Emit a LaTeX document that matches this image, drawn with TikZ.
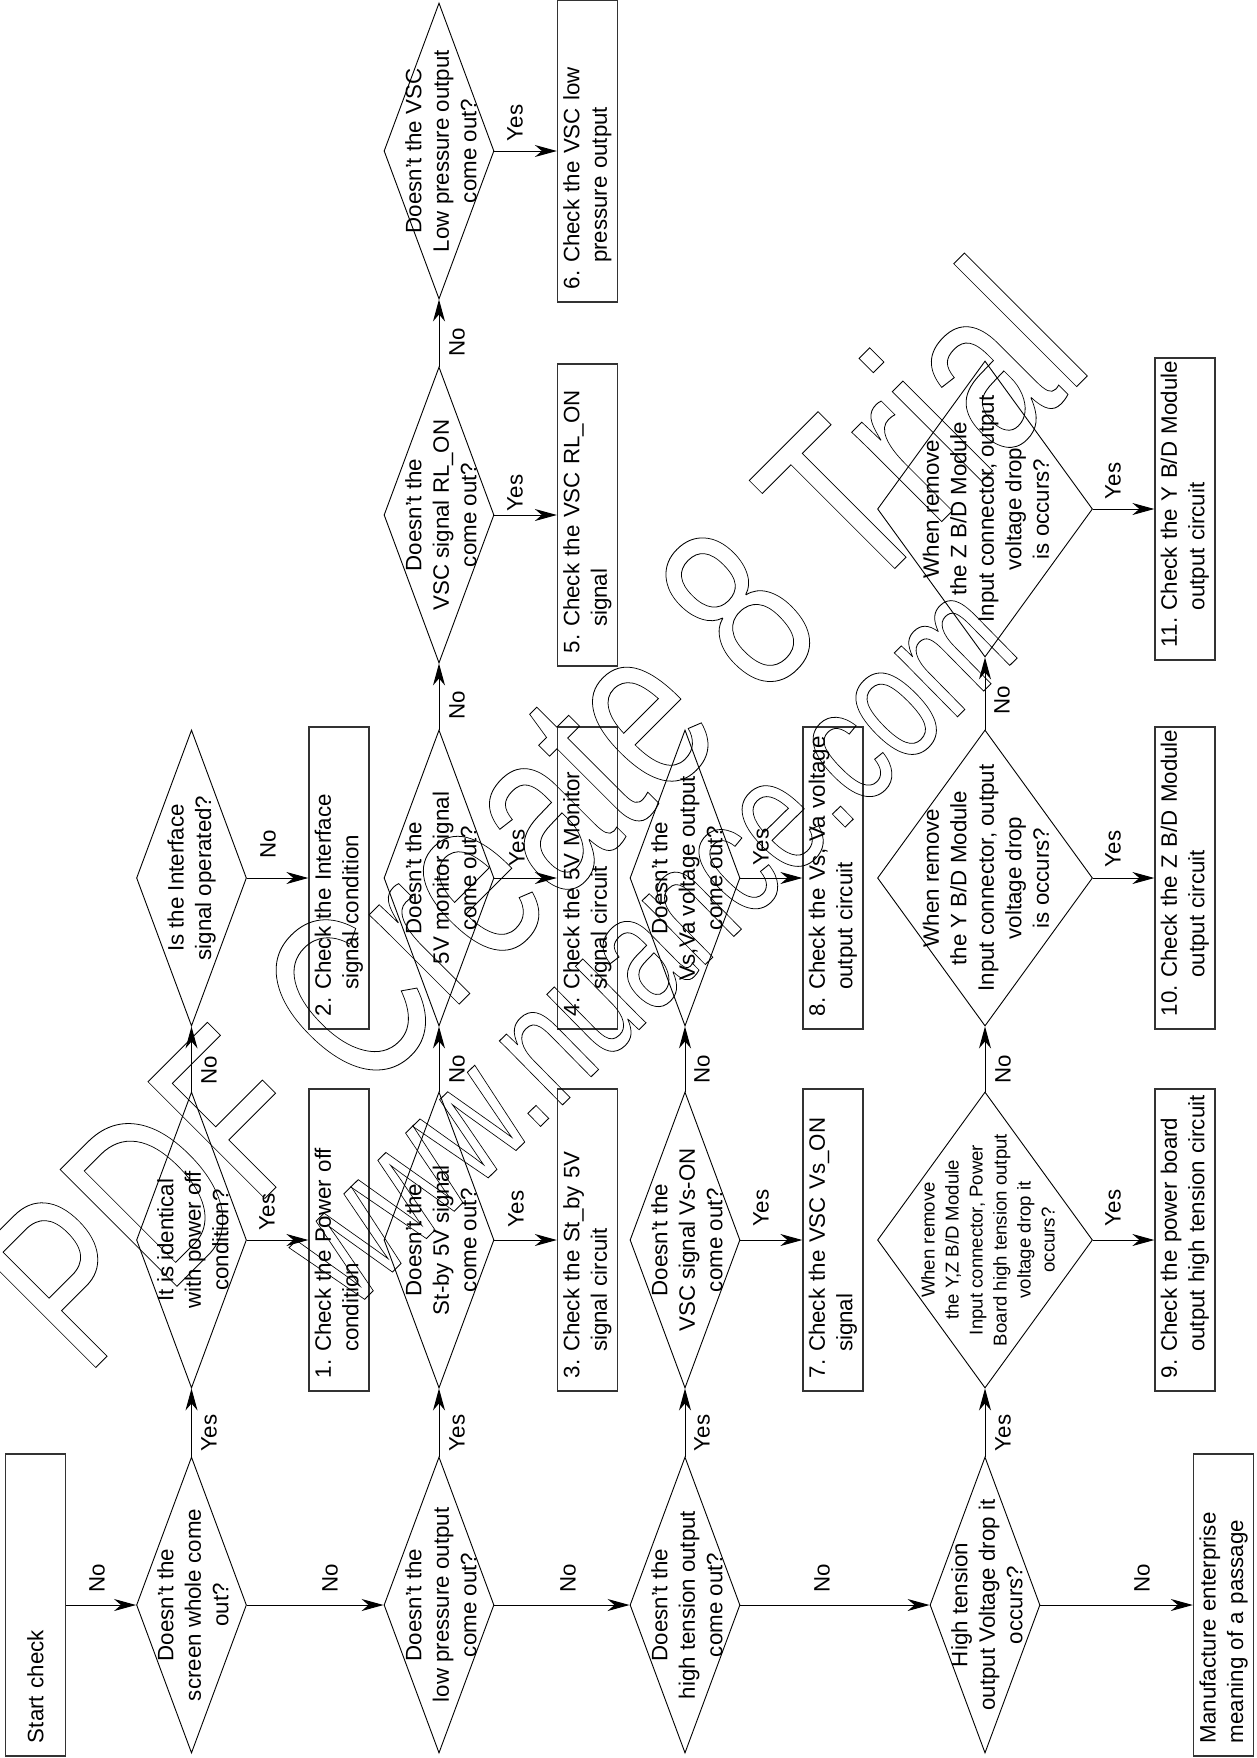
\documentclass[tikz,border=0pt]{standalone}
\usepackage{fontspec}
\setmainfont{Liberation Sans}
\usetikzlibrary{shapes.geometric,arrows.meta}
\tikzset{
  base/.style={rotate=90, inner sep=0pt, font=\fontsize{22.3}{27.5}\selectfont},
  dia/.style={base, shape=diamond, draw, line width=0.9pt, minimum width=296pt, minimum height=110pt},
  wdia/.style={dia, minimum height=215pt},
  dtxt/.style={base, align=center},
  stxt/.style={base, align=center, font=\fontsize{18.6}{24}\selectfont},
  box/.style={base, shape=rectangle, draw=black!80, line width=1.3pt, minimum width=302pt, minimum height=60pt, text width=276pt, inner xsep=13pt, align=left},
  lbl/.style={base},
  arr/.style={line width=1pt, -{Stealth[length=22pt,width=12pt,inset=7pt]}},
  wmark/.style={inner sep=0pt}
}
\newcommand\numtxt[3]{#1~\begin{tabular}[t]{@{}l@{}}#2\\#3\end{tabular}}
\newcommand\outlinetext[1]{\special{pdf:literal direct 1 Tr 0.9 w}#1\special{pdf:literal direct 0 Tr}}
\begin{document}
\begin{tikzpicture}[x=1pt,y=-1pt]
\fill[white] (0,0) rectangle (1257,1758);
\useasboundingbox (0,0) rectangle (1257,1758);

% ---- main row
\node[box] (start) at (35.5,1605) {Start check};
\node[dia] (d1) at (191.5,1605) {};
\node[dia] (d2) at (439,1605) {};
\node[dia] (d3) at (685,1605) {};
\node[dia] (d4) at (985,1605) {};
\node[box] (man) at (1223.5,1605) {Manufacture enterprise\\meaning of a passage};
\node[dtxt] (t1) at (193,1605) {Doesn’t the\\screen whole come\\out?};
\node[dtxt] (t2) at (441,1605) {Doesn’t the\\low pressure output\\come out?};
\node[dtxt] (t3) at (687,1605) {Doesn’t the\\high tension output\\come out?};
\node[dtxt] (t4) at (987,1605) {High tension\\output Voltage drop it\\occurs?};

% ---- column 1
\node[dia] (b1) at (191.5,1240) {};
\node[dtxt] (tb1) at (193,1240) {It is identical\\with power off\\condition?};
\node[box] (r1) at (339,1240) {\numtxt{1.}{Check the Power off}{condition}};
\node[dia] (c1) at (191.5,878) {};
\node[dtxt] (tc1) at (191.5,878) {Is the Interface\\signal operated?};
\node[box] (r2) at (339,878) {\numtxt{2.}{Check the Interface}{signal condition}};

% ---- column 2
\node[dia] (b2) at (439,1240) {};
\node[dtxt] (tb2) at (441,1240) {Doesn’t the\\St-by 5V signal\\come out?};
\node[box] (r3) at (587.5,1240) {\numtxt{3.}{Check the St\_by 5V}{signal circuit}};
\node[dia] (c2) at (439,878) {};
\node[dtxt] (tc2) at (441,878) {Doesn’t the\\5V monitor signal\\come out?};
\node[box] (r4) at (587.5,878) {\numtxt{4.}{Check the 5V Monitor}{signal circuit}};
\node[dia] (dd2) at (439,515) {};
\node[dtxt] (tdd2) at (441,515) {Doesn’t the\\VSC signal RL\_ON\\come out?};
\node[box] (r5) at (587.5,515) {\numtxt{5.}{Check the VSC RL\_ON}{signal}};
\node[dia] (e2) at (439,151) {};
\node[dtxt] (te2) at (441,151) {Doesn’t the VSC\\Low pressure output\\come out?};
\node[box] (r6) at (587.5,151) {\numtxt{6.}{Check the VSC low}{pressure output}};

% ---- column 3
\node[dia] (b3) at (685,1240) {};
\node[dtxt] (tb3) at (687,1240) {Doesn’t the\\VSC signal Vs-ON\\come out?};
\node[box] (r7) at (833,1240) {\numtxt{7.}{Check the VSC Vs\_ON}{signal}};
\node[dia] (c3) at (685,878) {};
\node[dtxt] (tc3) at (687,878) {Doesn’t the\\Vs,Va voltage output\\come out?};
\node[box] (r8) at (833,878) {\numtxt{8.}{Check the Vs, Va voltage}{output circuit}};

% ---- column 4
\node[wdia] (b4) at (985,1240) {};
\node[stxt] (tb4) at (988,1240) {When remove\\the Y,Z B/D Module\\Input connector, Power\\Board high tension output\\voltage drop it\\occurs?};
\node[box] (r9) at (1185,1240) {\numtxt{9.}{Check the power board}{output high tension circuit}};
\node[wdia] (c4) at (985,878) {};
\node[dtxt] (tc4) at (986,878) {When remove\\the Y B/D Module\\Input connector, output\\voltage drop\\is occurs?};
\node[box] (r10) at (1185,878) {\numtxt{10.}{Check the Z B/D Module}{output circuit}};
\node[wdia] (dd4) at (985,509) {};
\node[dtxt] (tdd4) at (986,509) {When remove\\the Z B/D Module\\Input connector, output\\voltage drop\\is occurs?};
\node[box] (r11) at (1185,509) {\numtxt{11.}{Check the Y B/D Module}{output circuit}};

% ---- connectors
\draw[arr] (start) -- (d1);
\draw[arr] (d1) -- (d2);
\draw[arr] (d2) -- (d3);
\draw[arr] (d3) -- (d4);
\draw[arr] (d4) -- (man);
\draw[arr] (d1) -- (b1);
\draw[arr] (b1) -- (r1);
\draw[arr] (b1) -- (c1);
\draw[arr] (c1) -- (r2);
\draw[arr] (d2) -- (b2);
\draw[arr] (b2) -- (r3);
\draw[arr] (b2) -- (c2);
\draw[arr] (c2) -- (r4);
\draw[arr] (c2) -- (dd2);
\draw[arr] (dd2) -- (r5);
\draw[arr] (dd2) -- (e2);
\draw[arr] (e2) -- (r6);
\draw[arr] (d3) -- (b3);
\draw[arr] (b3) -- (r7);
\draw[arr] (b3) -- (c3);
\draw[arr] (c3) -- (r8);
\draw[arr] (d4) -- (b4);
\draw[arr] (b4) -- (r9);
\draw[arr] (b4) -- (c4);
\draw[arr] (c4) -- (r10);
\draw[arr] (c4) -- (dd4);
\draw[arr] (dd4) -- (r11);

% ---- labels
\node[lbl] (n1) at (97,1578) {No};
\node[lbl] (n2) at (330,1578) {No};
\node[lbl] (n3) at (568,1578) {No};
\node[lbl] (n4) at (822,1578) {No};
\node[lbl] (n5) at (1142,1578) {No};
\node[lbl] (y1) at (209,1433) {Yes};
\node[lbl] (y2) at (457,1433) {Yes};
\node[lbl] (y3) at (702,1433) {Yes};
\node[lbl] (y4) at (1003,1433) {Yes};
\node[lbl] (yb1) at (267,1212) {Yes};
\node[lbl] (nb1) at (209,1070) {No};
\node[lbl] (nc1) at (268,844) {No};
\node[lbl] (yb2) at (516,1209) {Yes};
\node[lbl] (nb2) at (457,1069) {No};
\node[lbl] (yc2) at (517,848) {Yes};
\node[lbl] (nc2) at (457,705) {No};
\node[lbl] (yd2) at (515,493) {Yes};
\node[lbl] (nd2) at (457,342) {No};
\node[lbl] (ye2) at (515,123) {Yes};
\node[lbl] (yb3) at (761,1208) {Yes};
\node[lbl] (nb3) at (702,1069) {No};
\node[lbl] (yc3) at (761,847) {Yes};
\node[lbl] (yb4) at (1113,1208) {Yes};
\node[lbl] (nb4) at (1003,1069) {No};
\node[lbl] (yc4) at (1113,849) {Yes};
\node[lbl] (nc4) at (1002,700) {No};
\node[lbl] (yd4) at (1113,481) {Yes};

% ---- watermark
\node[wmark, rotate=45, xscale=0.717, font=\fontsize{240}{240}\selectfont] (wm1) at (530,812) {\outlinetext{PDF Create 8 Trial}};
\node[wmark, rotate=44.5, xscale=0.706, font=\fontsize{170}{170}\selectfont] (wm2) at (656,950) {\outlinetext{www.nuance.com}};
\end{tikzpicture}
\end{document}
